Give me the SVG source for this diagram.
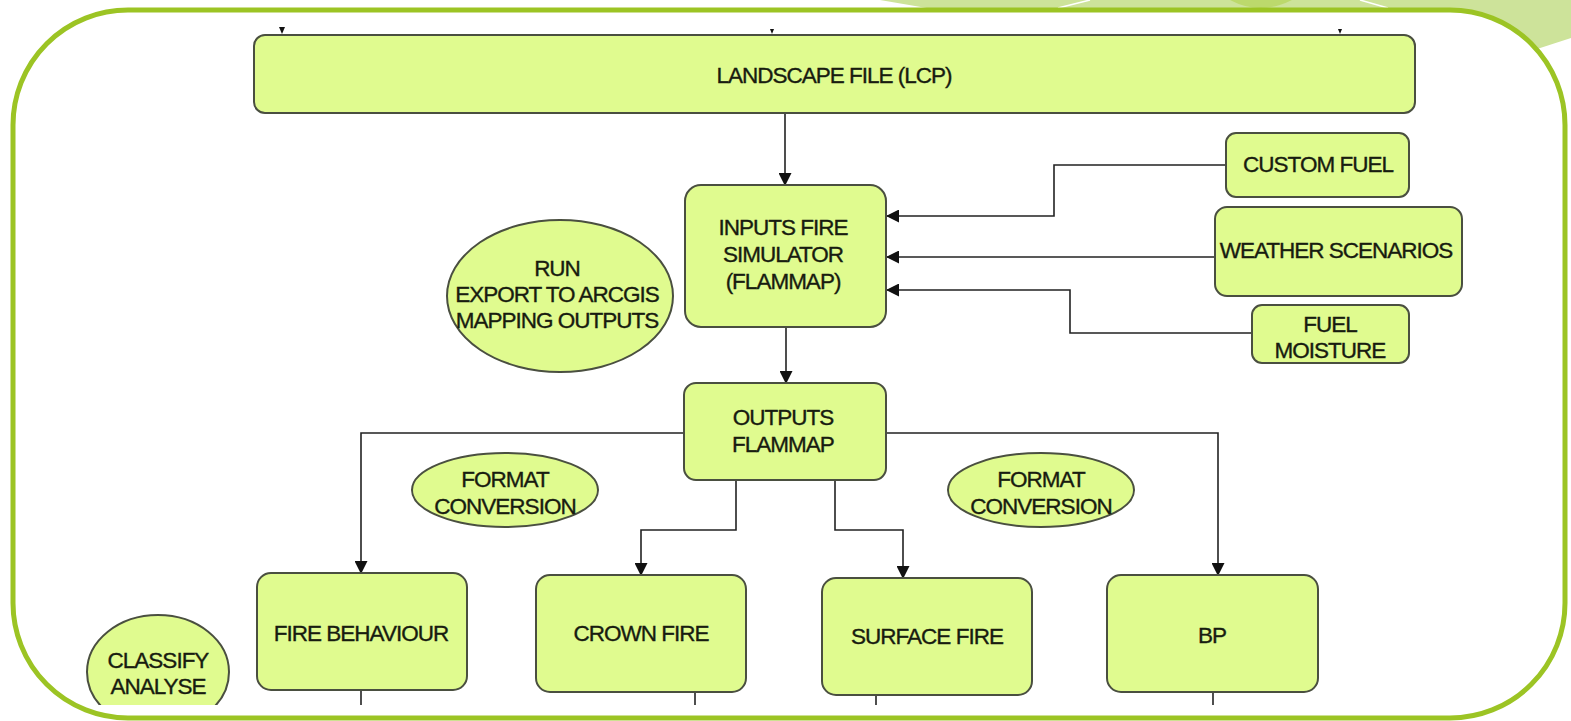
<svg xmlns="http://www.w3.org/2000/svg" width="1571" height="721" viewBox="0 0 1571 721">
<style>
.node{fill:#e0fb8f;stroke:#4a4f40;stroke-width:2}
.t{font-family:"Liberation Sans",Arial,Helvetica,sans-serif;font-size:22.5px;letter-spacing:-1px;fill:#181c10;stroke:#181c10;stroke-width:0.35;text-anchor:middle}
.c{fill:none;stroke:#222;stroke-width:1.6}
</style>
<defs>
<marker id="ah" markerUnits="userSpaceOnUse" markerWidth="13" markerHeight="13" refX="12" refY="6.5" orient="auto">
<path d="M0,0 L13,6.5 L0,13 z" fill="#111"/>
</marker>
<clipPath id="clip"><rect x="0" y="0" width="1571" height="705"/></clipPath>
</defs>
<g id="background">
<rect x="0" y="0" width="1571" height="721" fill="#ffffff"/>
<polygon points="880,0 1571,0 1571,38 1450,77 950,12" fill="#cde39a"/>
<path d="M1230,0 Q1260,16 1292,0 z" fill="#bcd96c"/>
<line x1="1058" y1="8" x2="1090" y2="0" stroke="#ffffff" stroke-width="1.5"/>
<line x1="1360" y1="0" x2="1388" y2="8" stroke="#ffffff" stroke-width="1.5"/>
<rect x="13" y="10" width="1552" height="708" rx="115" ry="115" fill="#ffffff" stroke="#9cc424" stroke-width="5"/>
</g>
<g clip-path="url(#clip)">
<g id="connectors">
<line class="c" x1="785" y1="113" x2="785" y2="185" marker-end="url(#ah)"/>
<polyline class="c" points="1227,165 1054,165 1054,216 887,216" marker-end="url(#ah)"/>
<line class="c" x1="1215" y1="257" x2="887" y2="257" marker-end="url(#ah)"/>
<polyline class="c" points="1252,333 1070,333 1070,290 887,290" marker-end="url(#ah)"/>
<line class="c" x1="786" y1="327" x2="786" y2="383" marker-end="url(#ah)"/>
<polyline class="c" points="684,433 361,433 361,573" marker-end="url(#ah)"/>
<polyline class="c" points="886,433 1218,433 1218,575" marker-end="url(#ah)"/>
<polyline class="c" points="736,480 736,530 641,530 641,575" marker-end="url(#ah)"/>
<polyline class="c" points="835,480 835,530 903,530 903,578" marker-end="url(#ah)"/>
<line class="c" x1="361" y1="690" x2="361" y2="721"/>
<line class="c" x1="695" y1="692" x2="695" y2="721"/>
<line class="c" x1="876" y1="695" x2="876" y2="721"/>
<line class="c" x1="1213" y1="692" x2="1213" y2="721"/>
<path d="M279,27 L285,27 L282,34 z" fill="#111"/>
<path d="M770,29 L774,29 L772,34 z" fill="#111"/>
<path d="M1338,29 L1342,29 L1340,34 z" fill="#111"/>
</g>
<g id="landscape">
<rect class="node" x="254" y="35" width="1161" height="78" rx="11"/>
<text class="t" x="834" y="83">LANDSCAPE FILE (LCP)</text>
</g>
<g id="inputs">
<rect class="node" x="685" y="185" width="201" height="142" rx="16"/>
<text class="t" x="783" y="235">INPUTS FIRE</text>
<text class="t" x="783" y="262">SIMULATOR</text>
<text class="t" x="783" y="289">(FLAMMAP)</text>
</g>
<g id="custom-fuel">
<rect class="node" x="1226" y="133" width="183" height="64" rx="10"/>
<text class="t" x="1318" y="172">CUSTOM FUEL</text>
</g>
<g id="weather">
<rect class="node" x="1215" y="207" width="247" height="89" rx="12"/>
<text class="t" x="1336" y="258">WEATHER SCENARIOS</text>
</g>
<g id="fuel-moisture">
<rect class="node" x="1252" y="305" width="157" height="58" rx="10"/>
<text class="t" x="1330" y="332">FUEL</text>
<text class="t" x="1330" y="358">MOISTURE</text>
</g>
<g id="run-export">
<ellipse class="node" cx="560" cy="296" rx="113" ry="76"/>
<text class="t" x="557" y="276">RUN</text>
<text class="t" x="557" y="302">EXPORT TO ARCGIS</text>
<text class="t" x="557" y="328">MAPPING OUTPUTS</text>
</g>
<g id="outputs">
<rect class="node" x="684" y="383" width="202" height="97" rx="12"/>
<text class="t" x="783" y="425">OUTPUTS</text>
<text class="t" x="783" y="452">FLAMMAP</text>
</g>
<g id="format-left">
<ellipse class="node" cx="505" cy="490" rx="93" ry="37"/>
<text class="t" x="505" y="487">FORMAT</text>
<text class="t" x="505" y="514">CONVERSION</text>
</g>
<g id="format-right">
<ellipse class="node" cx="1041" cy="490" rx="93" ry="37"/>
<text class="t" x="1041" y="487">FORMAT</text>
<text class="t" x="1041" y="514">CONVERSION</text>
</g>
<g id="fire-behaviour">
<rect class="node" x="257" y="573" width="210" height="117" rx="14"/>
<text class="t" x="361" y="641">FIRE BEHAVIOUR</text>
</g>
<g id="crown-fire">
<rect class="node" x="536" y="575" width="210" height="117" rx="14"/>
<text class="t" x="641" y="641">CROWN FIRE</text>
</g>
<g id="surface-fire">
<rect class="node" x="822" y="578" width="210" height="117" rx="14"/>
<text class="t" x="927" y="644">SURFACE FIRE</text>
</g>
<g id="bp">
<rect class="node" x="1107" y="575" width="211" height="117" rx="14"/>
<text class="t" x="1212" y="643">BP</text>
</g>
<g id="classify">
<ellipse class="node" cx="158" cy="672" rx="71" ry="57"/>
<text class="t" x="158" y="668">CLASSIFY</text>
<text class="t" x="158" y="694">ANALYSE</text>
</g>
</g>
</svg>
